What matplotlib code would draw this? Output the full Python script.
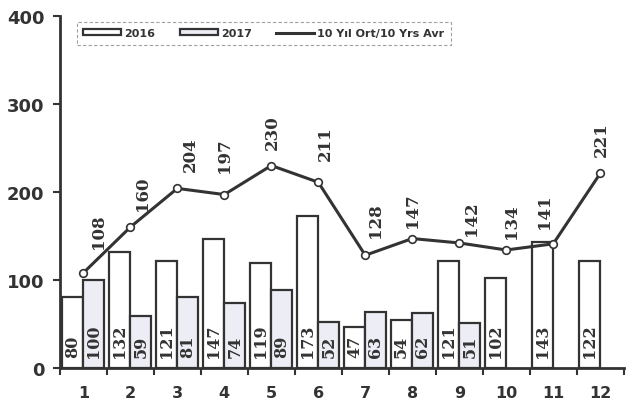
import matplotlib
matplotlib.use("Agg")
import matplotlib.pyplot as plt
import numpy as np
from matplotlib.patches import Patch
from matplotlib.lines import Line2D

categories = ["1", "2", "3", "4", "5", "6", "7", "8", "9", "10", "11", "12"]
values_2016 = [80, 132, 121, 147, 119, 173, 47, 54, 121, 102, 143, 122]
values_2017 = [100, 59, 81, 74, 89, 52, 63, 62, 51, np.nan, np.nan, np.nan]
avg_10yr = [108, 160, 204, 197, 230, 211, 128, 147, 142, 134, 141, 221]
yticks = [0, 100, 200, 300, 400]
legend_labels = ["2016", "2017", "10 Yıl Ort/10 Yrs Avr"]

# label placement offsets for line labels (pixels)
label_offsets = [(15, 25), (12, 17), (13, 17), (0, 23), (1, 17), (7, 22),
                 (10, 18), (0, 12), (12, 8), (5, 12), (-9, 16), (1, 17)]

dark = "#333333"
fig = plt.figure(figsize=(6.3, 4.14), dpi=100)
ax = fig.add_axes([0.095, 0.109, 0.895, 0.850])

x = np.arange(len(categories))
w = 0.45
ax.bar(x - w / 2, values_2016, width=w, color="white", edgecolor=dark, linewidth=1.6)
ax.bar(x + w / 2, values_2017, width=w, color="#ededf5", edgecolor=dark, linewidth=1.6)

lab_font = dict(fontsize=11.5, fontweight="bold", family="DejaVu Serif", color=dark)
for xi, v in zip(x, values_2016):
    if not np.isnan(v):
        ax.text(xi - w / 2, 12, f"{v:g}", rotation=90, ha="center", va="bottom", **lab_font)
for xi, v in zip(x, values_2017):
    if not np.isnan(v):
        ax.text(xi + w / 2, 12, f"{v:g}", rotation=90, ha="center", va="bottom", **lab_font)

ax.plot(x, avg_10yr, color=dark, linewidth=2.2, marker="o", markersize=5.5,
        markerfacecolor="white", markeredgecolor=dark, markeredgewidth=1.2, zorder=3)
for xi, v, (dx, dy) in zip(x, avg_10yr, label_offsets):
    ax.annotate(f"{v:g}", (xi, v), xytext=(dx, dy), textcoords="offset pixels",
                rotation=90, ha="center", va="bottom", fontsize=12,
                fontweight="bold", family="DejaVu Serif", color=dark)

ax.set_xlim(-0.5, len(categories) - 0.5)
ax.set_ylim(0, 400)
ax.set_yticks(yticks)
ax.set_yticklabels([str(t) for t in yticks], fontsize=13, fontweight="bold", color=dark)
ax.set_xticks(x)
ax.set_xticklabels(categories, fontsize=11.5, fontweight="bold", color=dark)
ax.tick_params(axis="x", length=0, pad=12)
ax.set_xticks(np.arange(-0.5, len(categories), 1), minor=True)
ax.tick_params(axis="x", which="minor", length=5, width=1.5, color=dark, direction="out")
ax.tick_params(axis="y", length=5, width=1.5, color=dark, direction="out", pad=6)

for s in ["top", "right"]:
    ax.spines[s].set_visible(False)
for s in ["left", "bottom"]:
    ax.spines[s].set_color(dark)
    ax.spines[s].set_linewidth(2)

handles = [Patch(facecolor="white", edgecolor=dark, linewidth=1.6),
           Patch(facecolor="#ededf5", edgecolor=dark, linewidth=1.6),
           Line2D([0], [0], color=dark, linewidth=2.2)]
leg = ax.legend(handles, legend_labels, loc="upper left", bbox_to_anchor=(0.02, 1.0),
                ncol=3, frameon=True, fancybox=False, handlelength=3.4, handleheight=0.5,
                columnspacing=2.2, prop={"weight": "bold", "size": 8},
                borderpad=0.6, handletextpad=0.3)
leg.get_frame().set_edgecolor("#888888")
leg.get_frame().set_linestyle((0, (3, 2)))
leg.get_frame().set_linewidth(0.8)
for t in leg.get_texts():
    t.set_color(dark)

fig.savefig("out.png", dpi=100)
